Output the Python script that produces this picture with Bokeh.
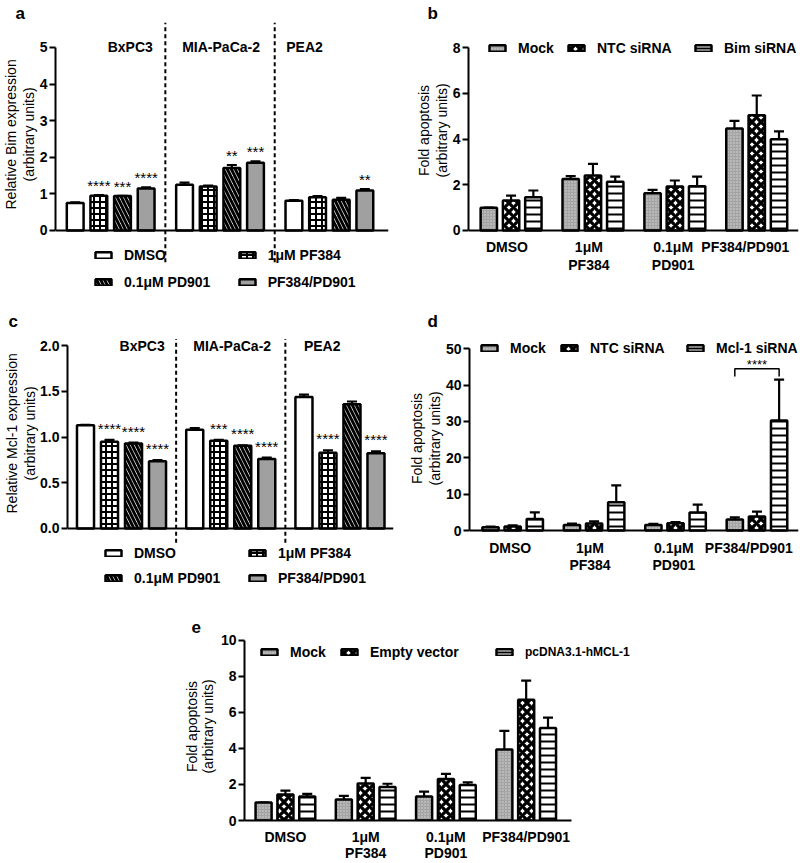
import numpy as np
from bokeh.plotting import figure
from bokeh.models import (FixedTicker, Span, Whisker, TeeHead, ColumnDataSource, Legend,
                          LegendItem, Spacer, NumeralTickFormatter, Range1d, Title)
from bokeh.layouts import row, column
from bokeh.embed import file_html
from bokeh.resources import INLINE
from bokeh.core.properties import value

FONT = "Liberation Sans"

# ---------------- data ----------------
cell_lines = ["BxPC3", "MIA-PaCa-2", "PEA2"]
treatments = ["DMSO", "1μM PF384", "0.1μM PD901", "PF384/PD901"]

bim_dmso = [0.75, 1.25, 0.81]
bim_pf384 = [0.95, 1.20, 0.91]
bim_pd901 = [0.94, 1.71, 0.84]
bim_combo = [1.15, 1.85, 1.09]
bim_dmso_sem = [0.02, 0.06, 0.02]
bim_pf384_sem = [0.02, 0.03, 0.03]
bim_pd901_sem = [0.01, 0.08, 0.05]
bim_combo_sem = [0.03, 0.04, 0.04]
bim_dmso_sig = ["", "", ""]
bim_pf384_sig = ["****", "", ""]
bim_pd901_sig = ["***", "**", ""]
bim_combo_sig = ["****", "***", "**"]

mcl_dmso = [1.13, 1.08, 1.44]
mcl_pf384 = [0.95, 0.96, 0.83]
mcl_pd901 = [0.93, 0.905, 1.36]
mcl_combo = [0.735, 0.76, 0.825]
mcl_dmso_sem = [0.005, 0.02, 0.025]
mcl_pf384_sem = [0.02, 0.01, 0.025]
mcl_pd901_sem = [0.01, 0.005, 0.03]
mcl_combo_sem = [0.015, 0.017, 0.02]
mcl_dmso_sig = ["", "", ""]
mcl_pf384_sig = ["****", "***", "****"]
mcl_pd901_sig = ["****", "****", ""]
mcl_combo_sig = ["****", "****", "****"]

conditions = ["DMSO", "1μM\nPF384", "0.1μM\nPD901", "PF384/PD901"]

b_series = ["Mock", "NTC siRNA", "Bim siRNA"]
b_mock = [1.00, 2.25, 1.63, 4.47]
b_ntc = [1.31, 2.41, 1.93, 5.05]
b_bim = [1.46, 2.13, 1.94, 3.99]
b_mock_sem = [0.00, 0.13, 0.15, 0.33]
b_ntc_sem = [0.22, 0.51, 0.26, 0.86]
b_bim_sem = [0.29, 0.23, 0.42, 0.35]

d_series = ["Mock", "NTC siRNA", "Mcl-1 siRNA"]
d_mock = [0.9, 1.5, 1.5, 3.0]
d_ntc = [1.1, 1.9, 2.0, 3.85]
d_mcl = [3.2, 7.8, 4.95, 30.3]
d_mock_sem = [0.15, 0.4, 0.3, 0.6]
d_ntc_sem = [0.3, 0.6, 0.3, 1.35]
d_mcl_sem = [1.8, 4.6, 2.15, 11.2]
d_sig = "****"

e_series = ["Mock", "Empty vector", "pcDNA3.1-hMCL-1"]
e_mock = [1.00, 1.17, 1.33, 3.94]
e_empty = [1.44, 2.06, 2.30, 6.70]
e_pcdna = [1.33, 1.86, 1.97, 5.13]
e_mock_sem = [0.00, 0.20, 0.27, 1.04]
e_empty_sem = [0.22, 0.31, 0.29, 1.07]
e_pcdna_sem = [0.15, 0.18, 0.15, 0.58]

# ---------------- styles ----------------
STY = {
    "white": dict(fill_color="white"),
    "checker": dict(fill_color="white", hatch_pattern="cross", hatch_color="black",
                    hatch_scale=6, hatch_weight=2),
    "diag": dict(fill_color="white", hatch_pattern="left_diagonal_line", hatch_color="black",
                 hatch_scale=8, hatch_weight=3),
    "gray": dict(fill_color="#a0a0a0"),
    "mock": dict(fill_color="#a4a4a4", hatch_pattern="dot", hatch_color="#d6d6d6",
                 hatch_scale=3, hatch_weight=1),
    "diamond": dict(fill_color="white", hatch_pattern="diagonal_cross", hatch_color="black",
                    hatch_scale=9, hatch_weight=3.3),
    "hline": dict(fill_color="white", hatch_pattern="horizontal_line", hatch_color="black",
                  hatch_scale=7, hatch_weight=2),
}


def new_fig(w, h, xr, yr, left, right, top, bottom, xaxis=False):
    p = figure(width=w, height=h, x_range=Range1d(*xr), y_range=Range1d(*yr),
               output_backend="svg", toolbar_location=None,
               x_axis_location="below" if xaxis else None,
               min_border_left=left, min_border_right=right,
               min_border_top=top, min_border_bottom=bottom)
    p.xgrid.visible = False
    p.ygrid.visible = False
    p.outline_line_color = None
    return p


def style_y(p, ticks, bounds, fmt=None):
    ax = p.yaxis[0]
    ax.ticker = FixedTicker(ticks=ticks, minor_ticks=[])
    ax.bounds = bounds
    if fmt:
        ax.formatter = NumeralTickFormatter(format=fmt)
    ax.major_label_text_font = FONT
    ax.major_label_text_font_size = "14px"
    ax.major_label_text_font_style = "bold"
    ax.major_label_text_color = "black"
    ax.major_label_standoff = 2
    ax.axis_line_width = 2
    ax.axis_line_color = "black"
    ax.major_tick_line_width = 2
    ax.major_tick_line_color = "black"
    ax.major_tick_out = 6
    ax.major_tick_in = 0
    ax.minor_tick_out = 0
    ax.minor_tick_in = 0


def y_titles(p, lines, offsets):
    # lines are given innermost (closest to the axis) first
    for txt, off in zip(lines, offsets):
        p.add_layout(Title(text=txt, align="left", offset=off, standoff=0,
                           text_font=FONT, text_font_size="14px", text_font_style="normal",
                           text_color="black"), "left")


def axis_title(p, text):
    ax = p.yaxis[0]
    ax.axis_label = text
    ax.axis_label_text_font = FONT
    ax.axis_label_text_font_size = "14px"
    ax.axis_label_text_font_style = "normal"
    ax.axis_label_text_color = "black"
    ax.axis_label_text_line_height = 1.0
    ax.axis_label_standoff = 2


def category_labels(p, label_x, dy):
    # category names under the zero line
    p.text(x=label_x, y=[0] * len(conditions), text=conditions,
           text_align="center", text_baseline="top", y_offset=dy, text_font=value(FONT),
           text_font_size="14px", text_font_style="bold", text_color="black",
           text_line_height=1.1)
    p.add_layout(Span(location=0, dimension="width", line_color="black", line_width=2))


def style_x(p, bounds="auto"):
    ax = p.xaxis[0]
    ax.ticker = FixedTicker(ticks=list(range(len(conditions))), minor_ticks=[])
    ax.major_label_overrides = {i: c for i, c in enumerate(conditions)}
    ax.bounds = bounds
    ax.major_label_text_font = FONT
    ax.major_label_text_font_size = "14px"
    ax.major_label_text_font_style = "bold"
    ax.major_label_text_color = "black"
    ax.major_label_text_line_height = 1.0
    ax.major_tick_out = 0
    ax.major_tick_in = 0
    ax.minor_tick_out = 0
    ax.minor_tick_in = 0
    ax.axis_line_width = 2
    ax.axis_line_color = "black"
    ax.major_label_standoff = 8


LEG = dict(border_line_color=None, background_fill_alpha=0, padding=0, margin=0, spacing=0,
           glyph_width=20, glyph_height=8, label_height=8, label_standoff=11,
           label_text_font=FONT, label_text_font_style="bold", label_text_color="black",
           orientation="horizontal")


def add_legend(p, r, label, loc, size="14px"):
    p.add_layout(Legend(items=[LegendItem(label=label, renderers=[r])], location=loc,
                        label_text_font_size=size, **LEG))


def add_letter(p, txt, offset):
    p.title.text = txt
    p.title.align = "left"
    p.title.offset = offset
    p.title.standoff = 0
    p.title.text_font = FONT
    p.title.text_font_size = "17px"
    p.title.text_font_style = "bold"
    p.title.text_color = "black"


def whisker(p, src):
    p.add_layout(Whisker(source=src, base="x", lower="top", upper="upper", dimension="height",
                         line_width=2.2, line_color="black",
                         upper_head=TeeHead(size=10, line_width=2.2, line_color="black"),
                         lower_head=None))


def four_bar_panel(p, series, gap, bw, star_off, sep_y, title_x, title_y, legend_pos):
    g = np.arange(len(cell_lines))
    for k, (vals, sems, sigs, sty) in enumerate(series):
        src = ColumnDataSource(dict(x=g * gap + k, top=vals, upper=np.add(vals, sems), sig=sigs))
        r = p.vbar(x="x", top="top", width=bw, source=src, line_color="black",
                   line_width=2.5, **STY[sty])
        whisker(p, src)
        p.text(x="x", y="upper", text="sig", source=src, text_align="center",
               text_baseline="bottom", y_offset=star_off, text_font=value(FONT),
               text_font_size="15px", text_color="black")
        add_legend(p, r, treatments[k], legend_pos[k])
    seps = [(gi * gap + 3 + (gi + 1) * gap) / 2 for gi in range(len(cell_lines) - 1)]
    p.segment(x0=seps, y0=sep_y[0], x1=seps, y1=sep_y[1], line_color="black",
              line_width=2, line_dash="4 3")
    p.text(x=title_x, y=[title_y] * len(cell_lines), text=cell_lines, text_align="center",
           text_baseline="middle", text_font=value(FONT), text_font_size="14px",
           text_font_style="bold", text_color="black")
    p.add_layout(Span(location=0, dimension="width", line_color="black", line_width=2))


OFFS = [-0.272, 0.0, 0.272]


def three_bar_panel(p, series, names, styles, legend_pos, sizes=("14px",) * 3, bw=0.2):
    g = np.arange(len(conditions))
    for k, (vals, sems) in enumerate(series):
        src = ColumnDataSource(dict(x=g + OFFS[k], top=vals, upper=np.add(vals, sems)))
        r = p.vbar(x="x", top="top", width=bw, source=src, line_color="black",
                   line_width=2.5, **STY[styles[k]])
        whisker(p, src)
        add_legend(p, r, names[k], legend_pos[k], sizes[k])


# ---------------- panel a ----------------
pa = new_fig(405, 298, (-0.833, 13.25), (-1.694, 5.683), 50, 17, 22, 6)
style_y(pa, [0, 1, 2, 3, 4, 5], (0, 5))
y_titles(pa, ["(arbitrary units)", "Relative Bim expression"], [111, 83])
four_bar_panel(pa,
               [(bim_dmso, bim_dmso_sem, bim_dmso_sig, "white"),
                (bim_pf384, bim_pf384_sem, bim_pf384_sig, "checker"),
                (bim_pd901, bim_pd901_sem, bim_pd901_sig, "diag"),
                (bim_combo, bim_combo_sem, bim_combo_sig, "gray")],
               gap=4.625, bw=0.71, star_off=-1, sep_y=(-0.87, 5.68),
               title_x=[2.33, 6.17, 9.7], title_y=5.0,
               legend_pos=[(38, 29), (181.7, 29), (38, 2.3), (181.7, 2.3)])
add_letter(pa, "a", -40)

# ---------------- panel b ----------------
pb = new_fig(394, 298, (-0.52, 3.51), (-2.715, 9.107), 63, 1, 22, 6)
style_y(pb, [0, 2, 4, 6, 8], (0, 8))
y_titles(pb, ["(arbitrary units)", "Fold apoptosis"], [115, 116.5])
category_labels(pb, [-0.05, 0.95, 1.98, 2.86], 9)
three_bar_panel(pb, [(b_mock, b_mock_sem), (b_ntc, b_ntc_sem), (b_bim, b_bim_sem)],
                b_series, ["mock", "diamond", "hline"],
                [(19, 236), (98, 236), (225, 236)])
add_letter(pb, "b", -41)

# ---------------- panel c ----------------
pc = new_fig(405, 292, (-0.75, 12.83), (-0.657, 2.1675), 67, 12, 32, 2)
style_y(pc, [0, 0.5, 1.0, 1.5, 2.0], (0, 2.0), fmt="0.0")
y_titles(pc, ["(arbitrary units)", "Relative Mcl-1 expression"], [108, 75])
four_bar_panel(pc,
               [(mcl_dmso, mcl_dmso_sem, mcl_dmso_sig, "white"),
                (mcl_pf384, mcl_pf384_sem, mcl_pf384_sig, "checker"),
                (mcl_pd901, mcl_pd901_sem, mcl_pd901_sig, "diag"),
                (mcl_combo, mcl_combo_sem, mcl_combo_sig, "gray")],
               gap=4.55, bw=0.71, star_off=-3, sep_y=(-0.156, 2.075),
               title_x=[2.36, 6.11, 9.86], title_y=2.0,
               legend_pos=[(36, 27), (180, 27), (36, 2), (180, 2)])
add_letter(pc, "c", -59)

# ---------------- panel d ----------------
pd_ = new_fig(394, 292, (-0.53, 3.51), (-15.96, 55.04), 64, 1, 32, 2)
style_y(pd_, [0, 10, 20, 30, 40, 50], (0, 50))
y_titles(pd_, ["(arbitrary units)", "Fold apoptosis"], [103, 104.5])
category_labels(pd_, [-0.03, 0.95, 1.98, 2.9], 9)
three_bar_panel(pd_, [(d_mock, d_mock_sem), (d_ntc, d_ntc_sem), (d_mcl, d_mcl_sem)],
                d_series, ["mock", "diamond", "hline"],
                [(10, 232), (90, 232), (216, 232)])
last = len(conditions) - 1
bx = [last + OFFS[0], last + OFFS[0], last + OFFS[2], last + OFFS[2]]
pd_.line(x=bx, y=[42.4, 44.5, 44.5, 42.4], line_color="black", line_width=1.5)
pd_.text(x=[last + (OFFS[0] + OFFS[2]) / 2], y=[44.5], text=[d_sig], text_align="center",
         text_baseline="bottom", y_offset=3, text_font=value(FONT), text_font_size="13px",
         text_color="black")
add_letter(pd_, "d", -42)

# ---------------- panel e ----------------
pe = new_fig(460, 273, (-0.51, 4.30), (0, 10.44), 57, 10, 42, 40, xaxis=True)
style_y(pe, [0, 2, 4, 6, 8, 10], (0, 10))
axis_title(pe, "Fold apoptosis\n(arbitrary units)")
style_x(pe, bounds=(-0.51, 3.566))
three_bar_panel(pe, [(e_mock, e_mock_sem), (e_empty, e_empty_sem), (e_pcdna, e_pcdna_sem)],
                e_series, ["mock", "diamond", "hline"],
                [(15, 160), (95, 160), (250, 161)], sizes=("14px", "14px", "12px"))
add_letter(pe, "e", -53)

layout = column(row(pa, pb), row(pc, pd_), row(Spacer(width=180, height=273), pe))

open("out.html", "w").write(file_html(layout, INLINE))
